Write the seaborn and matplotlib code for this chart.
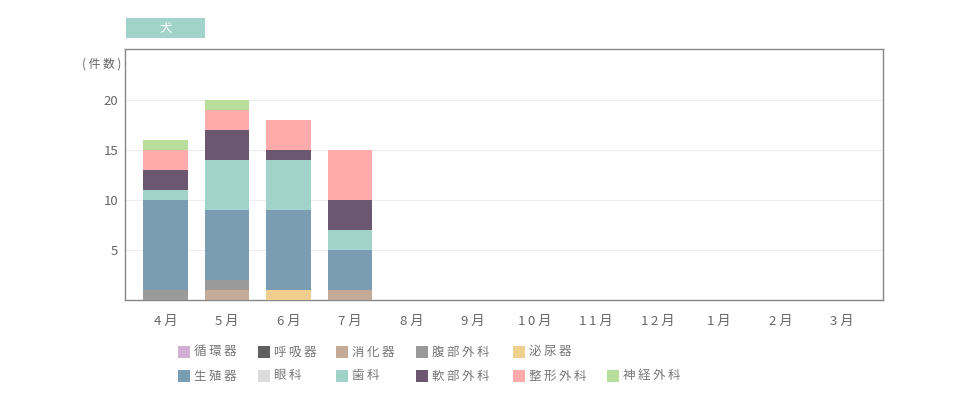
import matplotlib
matplotlib.use("Agg")
import matplotlib.pyplot as plt
import seaborn as sns
import numpy as np
import pandas as pd
from matplotlib.patches import Rectangle

sns.set_theme(style="white")
plt.rcParams['font.family'] = ['Noto Sans CJK JP', 'DejaVu Sans']

months = ["4月", "5月", "6月", "7月", "8月", "9月", "10月", "11月", "12月", "1月", "2月", "3月"]
categories = ["循環器", "呼吸器", "消化器", "腹部外科", "泌尿器", "生殖器", "眼科", "歯科", "軟部外科", "整形外科", "神経外科"]
colors = ["#d4afd4", "#5f5f5f", "#c4ab98", "#9a9a9a", "#f0cf8e", "#7b9db3", "#dcdcdc", "#a1d3ca", "#6b5870", "#ffabab", "#b8de9c"]

junkanki   = [0, 0, 0, 0, 0, 0, 0, 0, 0, 0, 0, 0]
kokyuki    = [0, 0, 0, 0, 0, 0, 0, 0, 0, 0, 0, 0]
shokaki    = [0, 1, 0, 1, 0, 0, 0, 0, 0, 0, 0, 0]
fukubu     = [1, 1, 0, 0, 0, 0, 0, 0, 0, 0, 0, 0]
hinyoki    = [0, 0, 1, 0, 0, 0, 0, 0, 0, 0, 0, 0]
seishokuki = [9, 7, 8, 4, 0, 0, 0, 0, 0, 0, 0, 0]
ganka      = [0, 0, 0, 0, 0, 0, 0, 0, 0, 0, 0, 0]
shika      = [1, 5, 5, 2, 0, 0, 0, 0, 0, 0, 0, 0]
nanbu      = [2, 3, 1, 3, 0, 0, 0, 0, 0, 0, 0, 0]
seikei     = [2, 2, 3, 5, 0, 0, 0, 0, 0, 0, 0, 0]
shinkei    = [1, 1, 0, 0, 0, 0, 0, 0, 0, 0, 0, 0]

series = [junkanki, kokyuki, shokaki, fukubu, hinyoki, seishokuki, ganka, shika, nanbu, seikei, shinkei]

TS = "\u2009"
def spaced(s, sep=TS):
    return sep.join(list(s))

def month_label(m):
    return TS.join(list(m[:-1])) + " " + m[-1]

fig = plt.figure(figsize=(9.6, 4.0), dpi=100)
ax = fig.add_axes([125/960, (400-300)/400, (883-125)/960, (300-49)/400])

x = np.arange(len(months))
bottom = np.zeros(len(months))
for name, vals, c in zip(categories, series, colors):
    df = pd.DataFrame({"x": x, "v": np.array(vals, dtype=float)})
    ax.bar(df["x"], df["v"], bottom=bottom, width=0.73, color=c, linewidth=0, zorder=3)
    bottom += df["v"].values

ax.set_xlim(-0.66, 11.67)
ax.set_ylim(0, 25.1)
ax.set_yticks([5, 10, 15, 20])
ax.set_yticklabels(["5", "10", "15", "20"])
ax.set_xticks(x)
ax.set_xticklabels([month_label(m) for m in months])
ax.tick_params(axis='both', length=0, labelsize=9.5, colors="#666666")
ax.tick_params(axis='x', pad=11)
ax.tick_params(axis='y', pad=5)
ax.yaxis.grid(True, color="#eeeeee", linewidth=0.8, zorder=0)
ax.set_axisbelow(True)
for s in ax.spines.values():
    s.set_color("#888888")
    s.set_linewidth(1.0)

fig.text(121/960, 1 - 64/400, spaced("(件数)", " "), ha="right", va="center", fontsize=8.5, color="#666666")

# title box
fig.patches.append(Rectangle((126/960, 1 - 38/400), (205-126)/960, 20/400,
                             transform=fig.transFigure, facecolor="#a1d3ca", edgecolor="none"))
fig.text(165.5/960, 1 - 28/400, "犬", ha="center", va="center", fontsize=9, color="white")

# legend (manual)
col_x = [178, 258, 336, 416, 513, 607]
rows = [[0, 1, 2, 3, 4], [5, 6, 7, 8, 9, 10]]
row_y = [352, 376]
for r, idxs in enumerate(rows):
    for ci, idx in enumerate(idxs):
        x0 = col_x[ci]
        yc = row_y[r]
        fig.patches.append(Rectangle((x0/960, 1 - (yc+6)/400), 12/960, 12/400,
                                     transform=fig.transFigure, facecolor=colors[idx], edgecolor="none"))
        fig.text((x0+16)/960, 1 - yc/400, spaced(categories[idx]), ha="left", va="center",
                 fontsize=9, color="#777777")

fig.savefig("out.png", dpi=100, facecolor="white")
